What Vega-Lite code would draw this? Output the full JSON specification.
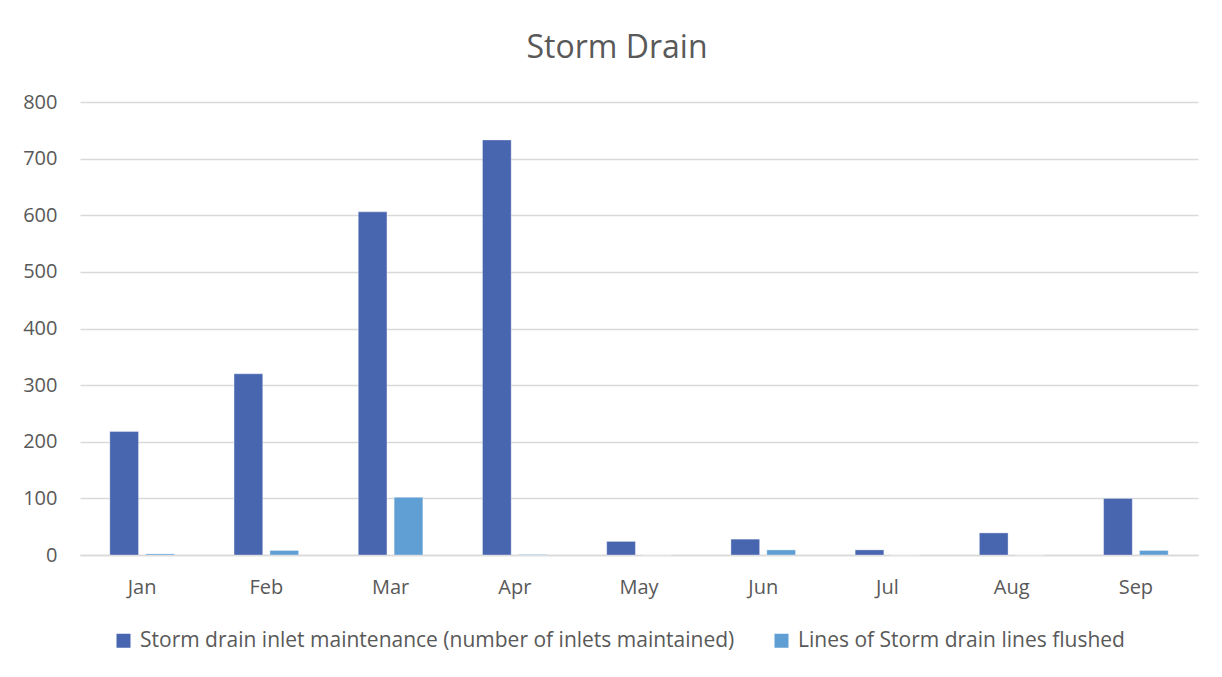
{
  "$schema": "https://vega.github.io/schema/vega-lite/v6.json",
  "width": 1118,
  "height": 453,
  "autosize": {"type": "none"},
  "padding": {"left": 80, "top": 102, "right": 24, "bottom": 122},
  "background": "white",
  "title": {
    "text": "Storm Drain",
    "font": "Open Sans",
    "fontSize": 32,
    "fontWeight": "normal",
    "color": "#595959",
    "offset": 27,
    "dx": -22,
    "anchor": "middle"
  },
  "data": {
    "values": [
      {"month": "Jan", "series": "Storm drain inlet maintenance (number of inlets maintained)", "value": 218},
      {"month": "Jan", "series": "Lines of Storm drain lines flushed", "value": 2},
      {"month": "Feb", "series": "Storm drain inlet maintenance (number of inlets maintained)", "value": 320},
      {"month": "Feb", "series": "Lines of Storm drain lines flushed", "value": 8},
      {"month": "Mar", "series": "Storm drain inlet maintenance (number of inlets maintained)", "value": 606},
      {"month": "Mar", "series": "Lines of Storm drain lines flushed", "value": 102},
      {"month": "Apr", "series": "Storm drain inlet maintenance (number of inlets maintained)", "value": 733},
      {"month": "Apr", "series": "Lines of Storm drain lines flushed", "value": 1},
      {"month": "May", "series": "Storm drain inlet maintenance (number of inlets maintained)", "value": 24},
      {"month": "May", "series": "Lines of Storm drain lines flushed", "value": 0},
      {"month": "Jun", "series": "Storm drain inlet maintenance (number of inlets maintained)", "value": 28},
      {"month": "Jun", "series": "Lines of Storm drain lines flushed", "value": 9},
      {"month": "Jul", "series": "Storm drain inlet maintenance (number of inlets maintained)", "value": 9},
      {"month": "Jul", "series": "Lines of Storm drain lines flushed", "value": 0},
      {"month": "Aug", "series": "Storm drain inlet maintenance (number of inlets maintained)", "value": 39},
      {"month": "Aug", "series": "Lines of Storm drain lines flushed", "value": 0},
      {"month": "Sep", "series": "Storm drain inlet maintenance (number of inlets maintained)", "value": 100},
      {"month": "Sep", "series": "Lines of Storm drain lines flushed", "value": 8}
    ]
  },
  "mark": {"type": "bar", "stroke": "white", "strokeOpacity": 0.35, "strokeWidth": 1},
  "encoding": {
    "x": {
      "field": "month",
      "type": "nominal",
      "sort": ["Jan", "Feb", "Mar", "Apr", "May", "Jun", "Jul", "Aug", "Sep"],
      "scale": {"paddingInner": 0.48, "paddingOuter": 0.24},
      "axis": {
        "title": null,
        "labelAngle": 0,
        "labelFont": "Open Sans",
        "labelFontSize": 20,
        "labelColor": "#595959",
        "labelPadding": 22,
        "domainColor": "#d9d9d9",
        "domainWidth": 1.5,
        "ticks": false,
        "grid": false
      }
    },
    "xOffset": {
      "field": "series",
      "type": "nominal",
      "sort": ["Storm drain inlet maintenance (number of inlets maintained)", "Lines of Storm drain lines flushed"],
      "scale": {"paddingInner": 0.2, "paddingOuter": 0}
    },
    "y": {
      "field": "value",
      "type": "quantitative",
      "scale": {"domain": [0, 800], "nice": false},
      "axis": {
        "title": null,
        "values": [0, 100, 200, 300, 400, 500, 600, 700, 800],
        "labelFont": "Open Sans",
        "labelFontSize": 20,
        "labelColor": "#595959",
        "labelPadding": 23,
        "ticks": false,
        "domain": false,
        "gridColor": "#d9d9d9",
        "gridWidth": 1.5
      }
    },
    "color": {
      "field": "series",
      "type": "nominal",
      "sort": ["Storm drain inlet maintenance (number of inlets maintained)", "Lines of Storm drain lines flushed"],
      "scale": {"range": ["#4865b0", "#5f9fd4"]},
      "legend": {
        "title": null,
        "orient": "none",
        "legendX": 33,
        "legendY": 528,
        "direction": "horizontal",
        "symbolType": "square",
        "symbolSize": 196,
        "symbolStrokeWidth": 0,
        "labelFont": "Open Sans",
        "labelFontSize": 21,
        "labelColor": "#595959",
        "labelLimit": 900,
        "columnPadding": 36,
        "labelOffset": 6
      }
    }
  },
  "config": {
    "view": {"stroke": null}
  }
}
